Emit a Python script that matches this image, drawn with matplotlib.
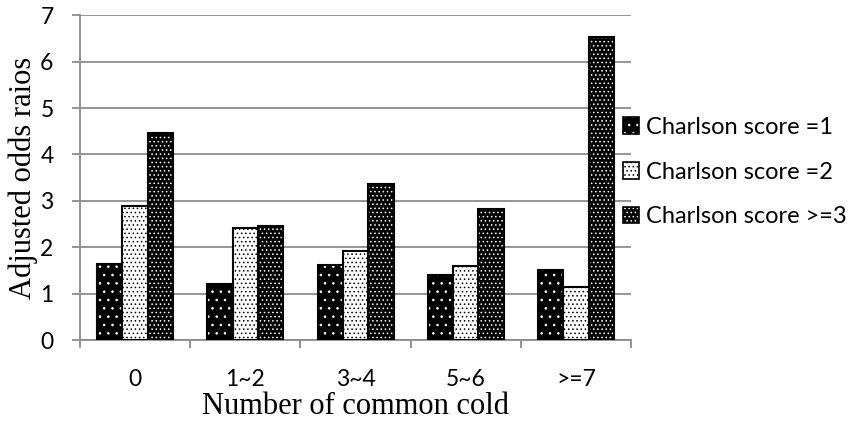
import matplotlib.pyplot as plt
import numpy as np
from matplotlib.patches import Patch

categories = ['0', '1~2', '3~4', '5~6', '>=7']
score1 = [1.65, 1.22, 1.62, 1.40, 1.52]
score2 = [2.89, 2.42, 1.92, 1.60, 1.15]
score3 = [4.47, 2.46, 3.37, 2.83, 6.52]
labels = ['Charlson score =1', 'Charlson score =2', 'Charlson score >=3']

# face colour, dot colour, hatch pattern
styles = [('black', 'white', '..'), ('white', 'black', '....'), ('black', 'white', '....')]

plt.rcParams['hatch.linewidth'] = 0.6

fig = plt.figure(figsize=(8.53, 4.21), dpi=100)
ax = fig.add_axes([0.0938, 0.192, 0.646, 0.772])

x = np.arange(len(categories))
w = 0.23
for i, (vals, (fc, hc, hatch)) in enumerate(zip([score1, score2, score3], styles)):
    pos = x + (i - 1) * w
    ax.bar(pos, vals, w, color=fc, edgecolor=hc, hatch=hatch, linewidth=0, zorder=3)
    ax.bar(pos, vals, w, fill=False, edgecolor='black', linewidth=1.5, zorder=4)

ax.set_ylim(0, 7)
ax.set_xlim(-0.5, len(categories) - 0.5)
ax.set_yticks(range(8))
ax.yaxis.grid(True, color='#8c8c8c', linewidth=1.3, zorder=0)
ax.set_xticks(x)
ax.set_xticklabels(categories)
ax.set_xticks(np.arange(-0.5, len(categories)), minor=True)
ax.tick_params(axis='x', which='major', length=0, pad=21)
ax.tick_params(axis='x', which='minor', length=6, color='#8c8c8c', width=1.3)
ax.tick_params(axis='y', length=6, color='#8c8c8c', width=1.3, pad=13)
for lab in ax.get_xticklabels() + ax.get_yticklabels():
    lab.set_fontfamily('Lato')
    lab.set_fontsize(16.5)

for s in ['top', 'right']:
    ax.spines[s].set_visible(False)
for s in ['left', 'bottom']:
    ax.spines[s].set_color('#8c8c8c')
    ax.spines[s].set_linewidth(1.3)

fig.text(23 / 853, 0.5785, 'Adjusted odds raios', fontfamily='Liberation Serif', fontsize=22,
         rotation=90, ha='center', va='center')
fig.text(0.4168, 0.016, 'Number of common cold', fontfamily='Liberation Serif', fontsize=22,
         ha='center', va='baseline')

# hatched square with a black outline on top
handles = [(Patch(facecolor=fc, edgecolor=hc, hatch=h, linewidth=0),
            Patch(fill=False, edgecolor='black', linewidth=1.2)) for fc, hc, h in styles]
leg = fig.legend(handles, labels, loc='center left', bbox_to_anchor=(0.730, 0.5914),
                 frameon=False, prop={'family': 'Lato', 'size': 17},
                 borderpad=0, borderaxespad=0,
                 handlelength=0.7, handleheight=0.7, handletextpad=0.3, labelspacing=1.0)

fig.savefig('out.png', dpi=100)
